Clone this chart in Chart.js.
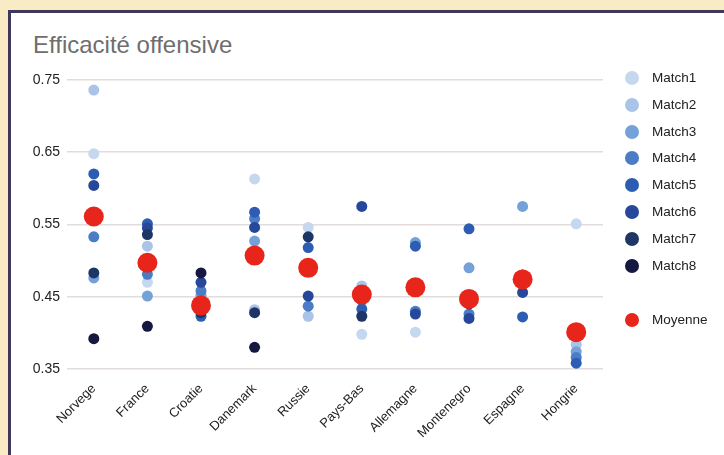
<!DOCTYPE html>
<html lang="fr">
<head>
<meta charset="utf-8">
<script src="https://cdn.jsdelivr.net/npm/chart.js@4.4.1/dist/chart.umd.min.js"></script>
<style>
    html, body { margin: 0; padding: 0; }
    body { width: 724px; height: 455px; background: #f9ecc4; position: relative; overflow: hidden;
           font-family: "Liberation Sans", Arial, sans-serif; }
    .panel { position: absolute; left: 8px; top: 10px; right: 0; bottom: 0; background: #fff;
             border-left: 3px solid #3f385c; border-top: 3px solid #3f385c; }
    .title { position: absolute; left: 33px; top: 31px; font-size: 24px; color: #6e6e6e; }
    canvas { position: absolute; left: 0; top: 0; }
    .legend { position: absolute; left: 625px; top: 0; font-size: 13.5px; color: #222; }
    .legend div { position: absolute; white-space: nowrap; line-height: 14px; }
    .legend span { position: absolute; left: 0; top: 0; width: 14px; height: 14px; border-radius: 50%; }
    .legend b { position: absolute; left: 27px; top: 0; font-weight: normal; }
</style>
</head>
<body>
<div class="panel"></div>
<div class="title">Efficacité offensive</div>
<canvas id="chart" width="724" height="455"></canvas>
<div class="legend" id="legend"></div>
<script>
document.addEventListener('DOMContentLoaded', () => {

    // --- données ---
    const pays = ['Norvege', 'France', 'Croatie', 'Danemark', 'Russie', 'Pays-Bas', 'Allemagne', 'Montenegro', 'Espagne', 'Hongrie'];
    const match1 = [0.648, 0.470, 0.432, 0.613, 0.546, 0.398, 0.401, 0.445, 0.475, 0.551];
    const match2 = [0.736, 0.520, 0.440, 0.432, 0.423, 0.465, 0.465, 0.450, 0.470, 0.384];
    const match3 = [0.476, 0.451, 0.452, 0.527, 0.490, 0.455, 0.525, 0.490, 0.575, 0.374];
    const match4 = [0.533, 0.481, 0.458, 0.558, 0.437, 0.445, 0.430, 0.426, 0.468, 0.366];
    const match5 = [0.620, 0.551, 0.423, 0.567, 0.518, 0.433, 0.520, 0.544, 0.422, 0.358];
    const match6 = [0.604, 0.545, 0.470, 0.546, 0.451, 0.575, 0.426, 0.420, 0.456, 0.395];
    const match7 = [0.483, 0.536, 0.428, 0.428, 0.533, 0.423, 0.462, 0.440, 0.480, null];
    const match8 = [0.392, 0.409, 0.483, 0.380, null, null, null, null, null, null];
    const moyenne = [0.561, 0.497, 0.438, 0.507, 0.490, 0.453, 0.463, 0.447, 0.474, 0.401];
    const yTicks = [0.35, 0.45, 0.55, 0.65, 0.75];

    const matchs = [match1, match2, match3, match4, match5, match6, match7, match8];
    const couleurs = ['#c5d8f0', '#a9c4e8', '#74a1d8', '#4b7dc6', '#2d5db3', '#26479a', '#1d3666', '#16183f'];
    const rouge = '#e8251b';

    const datasets = matchs.map((d, i) => ({
        label: 'Match' + (i + 1),
        data: d,
        backgroundColor: couleurs[i],
        borderColor: couleurs[i],
        pointRadius: 5.5,
        borderWidth: 0,
        showLine: false,
        order: 9 - i
    }));
    datasets.push({
        label: 'Moyenne',
        data: moyenne,
        backgroundColor: rouge,
        borderColor: rouge,
        pointRadius: 10,
        borderWidth: 0,
        showLine: false,
        order: 0
    });

    new Chart(document.getElementById('chart'), {
        type: 'line',
        data: { labels: pays, datasets },
        options: {
            responsive: false,
            animation: false,
            layout: { padding: { top: 80, right: 121, left: 0, bottom: 0 } },
            plugins: { legend: { display: false }, tooltip: { enabled: false } },
            scales: {
                x: {
                    offset: true,
                    grid: { display: false },
                    border: { display: false },
                    afterFit: s => { s.height = 86; },
                    ticks: {
                        minRotation: 45, maxRotation: 45, padding: 4,
                        color: '#222',
                        font: { family: 'Liberation Sans', size: 13 }
                    }
                },
                y: {
                    min: 0.35, max: 0.75,
                    afterBuildTicks: axis => { axis.ticks = yTicks.map(v => ({ value: v })); },
                    afterFit: s => { s.width = 67; },
                    border: { display: false },
                    grid: { color: '#e2dcdc', lineWidth: 1.5, drawTicks: false },
                    ticks: {
                        padding: 7,
                        color: '#222',
                        font: { family: 'Liberation Sans', size: 14 },
                        callback: v => v.toFixed(2)
                    }
                }
            }
        }
    });

    // --- légende ---
    const legend = document.getElementById('legend');
    datasets.forEach((ds, i) => {
        const row = document.createElement('div');
        const y = i < 8 ? 71 + i * 26.8 : 313;
        row.style.top = y + 'px';
        row.innerHTML = `<span style="background:${ds.backgroundColor}"></span><b>${ds.label}</b>`;
        legend.appendChild(row);
    });
});
</script>
</body>
</html>
